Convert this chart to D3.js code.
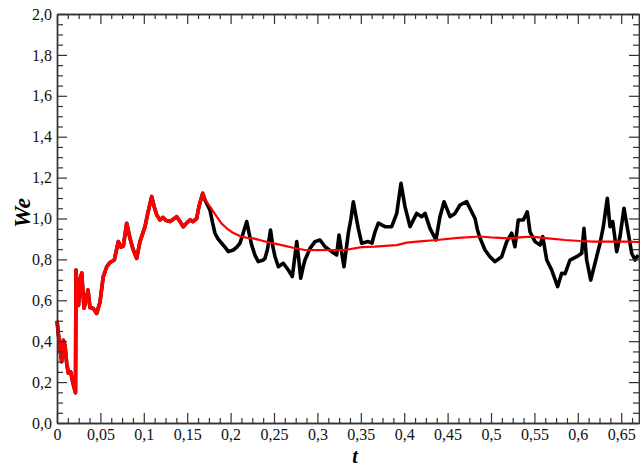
<!DOCTYPE html>
<html>
<head>
<meta charset="utf-8">
<script src="https://cdn.jsdelivr.net/npm/d3@7"></script>
<style>
  html, body { margin: 0; padding: 0; background: #fff; }
  svg { display: block; }
  text { font-family: "Liberation Serif", "Times New Roman", serif; }
</style>
</head>
<body>
<svg id="chart" width="640" height="468"></svg>
<script>
// ---- Data ----
// Shared part (black and red coincide up to t ≈ 0.17)
const tEarly = [0.000,0.0035,0.0054,0.0073,0.0092,0.0112,0.0130,0.0158,0.0181,0.0213,0.0219,0.0238,0.0248,0.0265,0.0285,0.0311,0.0334,0.0357,0.0380,0.0418,0.0457,0.0495,0.0533,0.0573,0.0611,0.0660,0.0706,0.0737,0.0764,0.0803,0.0841,0.0876,0.0918,0.0956,0.1014,0.1048,0.1091,0.1118,0.1149,0.1187,0.1221,0.1256,0.1302,0.1336,0.1379,0.1417,0.1455,0.1498,0.1532,0.1567,0.1609,0.1636,0.1679,0.1705];
const weEarly = [0.50,0.36,0.30,0.405,0.38,0.29,0.245,0.25,0.20,0.148,0.748,0.62,0.575,0.70,0.733,0.562,0.60,0.65,0.565,0.56,0.536,0.59,0.716,0.764,0.785,0.797,0.887,0.86,0.865,0.977,0.903,0.85,0.805,0.887,0.96,1.03,1.107,1.06,1.017,0.993,1.005,0.99,0.985,0.995,1.009,0.985,0.96,0.98,0.993,0.985,1.00,1.06,1.123,1.09];

// Black series after t ≈ 0.17
const tBlack = [0.1725,0.1763,0.1792,0.1820,0.1855,0.1897,0.1935,0.1974,0.2031,0.2071,0.2108,0.2146,0.2186,0.2212,0.2243,0.2281,0.2319,0.2377,0.2396,0.2425,0.2460,0.2488,0.2512,0.2550,0.2607,0.2665,0.2711,0.2736,0.2762,0.2785,0.2808,0.2834,0.2857,0.2915,0.2972,0.3030,0.3088,0.3165,0.3222,0.3249,0.3278,0.3306,0.3356,0.3387,0.3414,0.3445,0.3471,0.3510,0.3586,0.3629,0.3664,0.3702,0.3779,0.3856,0.3914,0.3963,0.4009,0.4067,0.4144,0.4202,0.4240,0.4297,0.4366,0.4412,0.4459,0.4528,0.4585,0.4643,0.4720,0.4777,0.4816,0.4844,0.4873,0.4931,0.4988,0.5046,0.5123,0.5181,0.5238,0.5276,0.5314,0.5372,0.5418,0.5449,0.5507,0.5565,0.5596,0.5642,0.5699,0.5768,0.5814,0.5853,0.5910,0.5987,0.6045,0.6071,0.6102,0.6149,0.6198,0.6256,0.6294,0.6340,0.6371,0.6402,0.6448,0.6486,0.6532,0.6582,0.6621,0.6659,0.6697];
const weBlack = [1.074,1.04,0.98,0.928,0.90,0.879,0.86,0.838,0.846,0.86,0.879,0.93,0.985,0.93,0.870,0.82,0.789,0.797,0.805,0.85,0.944,0.86,0.813,0.764,0.781,0.748,0.716,0.80,0.887,0.80,0.708,0.76,0.797,0.854,0.887,0.895,0.862,0.838,0.822,0.919,0.84,0.764,0.928,1.00,1.082,1.01,0.952,0.879,0.887,0.88,0.935,0.977,0.96,0.96,1.025,1.172,1.058,0.96,1.025,1.009,1.025,0.952,0.895,1.009,1.082,1.009,1.025,1.066,1.082,1.033,1.00,0.944,0.905,0.846,0.813,0.789,0.813,0.887,0.928,0.862,0.993,0.993,1.033,0.935,0.887,0.870,0.911,0.797,0.748,0.667,0.732,0.73,0.797,0.813,0.830,0.952,0.797,0.699,0.781,0.879,0.96,1.099,0.96,0.985,0.838,0.911,1.05,0.928,0.830,0.797,0.822];

// Red (smooth) series after t ≈ 0.17
const tRed = [0.1725,0.1763,0.1840,0.1897,0.1955,0.2028,0.2108,0.2186,0.2262,0.2377,0.2454,0.2589,0.2719,0.2857,0.3007,0.3165,0.3318,0.3510,0.3664,0.3779,0.3914,0.4029,0.4182,0.4374,0.4620,0.4873,0.5046,0.5200,0.5334,0.5469,0.5657,0.5853,0.6025,0.6179,0.6371,0.6544,0.6705];
const weRed = [1.08,1.058,1.009,0.975,0.952,0.93,0.914,0.906,0.903,0.89,0.882,0.870,0.857,0.846,0.845,0.846,0.846,0.86,0.862,0.866,0.870,0.882,0.888,0.895,0.905,0.912,0.906,0.903,0.908,0.911,0.903,0.895,0.89,0.887,0.887,0.887,0.885];

const xMajorTicks = [0,0.05,0.1,0.15,0.2,0.25,0.3,0.35,0.4,0.45,0.5,0.55,0.6,0.65];
const yMajorTicks = [0,0.2,0.4,0.6,0.8,1.0,1.2,1.4,1.6,1.8,2.0];
const xLabel = "t";
const yLabel = "We";

// ---- Layout ----
const svg = d3.select("#chart");
const L = 57, R = 639, T = 14, B = 423;
const x = d3.scaleLinear().domain([0, 0.6705]).range([L, R]);
const y = d3.scaleLinear().domain([0, 2.0]).range([B, T]);

const xMinor = d3.range(0, 0.6705, 0.0125).filter(v => !xMajorTicks.some(m => Math.abs(m - v) < 1e-6));
const yMinor = d3.range(0, 2.0001, 0.05).filter(v => !yMajorTicks.some(m => Math.abs(m - v) < 1e-6));

const fmtX = d => d === 0 ? "0" : String(+d.toFixed(2)).replace(".", ",");
const fmtY = d => d.toFixed(1).replace(".", ",");

// ---- Series ----
const black = tEarly.map((t, i) => [t, weEarly[i]]).concat(tBlack.map((t, i) => [t, weBlack[i]]));
const redEarly = tEarly.map((t, i) => [t, weEarly[i]]);
const redLate = [[tEarly[tEarly.length-1], weEarly[weEarly.length-1]]].concat(tRed.map((t, i) => [t, weRed[i]]));

const line = d3.line().x(d => x(d[0])).y(d => y(d[1]));

const plot = svg.append("g");
plot.append("path").datum(black).attr("d", line)
  .attr("fill", "none").attr("stroke", "#000").attr("stroke-width", 3.6).attr("stroke-linejoin", "round");
plot.append("path").datum(redEarly).attr("d", line)
  .attr("fill", "none").attr("stroke", "#ff0000").attr("stroke-width", 3.6).attr("stroke-linejoin", "round");
plot.append("path").datum(redLate).attr("d", line)
  .attr("fill", "none").attr("stroke", "#ff0000").attr("stroke-width", 2.2).attr("stroke-linejoin", "round");

// ---- Axes (ticks inward) ----
const axisColor = "#333";
function styleAxis(g) {
  g.selectAll("path.domain").attr("stroke", axisColor).attr("stroke-width", 1.4);
  g.selectAll(".tick line").attr("stroke", axisColor).attr("stroke-width", 1.2);
  g.selectAll(".tick text").attr("fill", "#111").style("font-size", "16px")
    .style("font-family", "'Liberation Serif', 'Times New Roman', serif");
}

// bottom
svg.append("g").attr("transform", `translate(0,${B})`)
  .call(d3.axisBottom(x).tickValues(xMajorTicks).tickSizeInner(-10).tickSizeOuter(0).tickPadding(6).tickFormat(fmtX))
  .call(styleAxis);
svg.append("g").attr("transform", `translate(0,${B})`)
  .call(d3.axisBottom(x).tickValues(xMinor).tickSizeInner(-5).tickSizeOuter(0).tickFormat(""))
  .call(styleAxis);
// top
svg.append("g").attr("transform", `translate(0,${T})`)
  .call(d3.axisTop(x).tickValues(xMajorTicks).tickSizeInner(-10).tickSizeOuter(0).tickFormat(""))
  .call(styleAxis);
svg.append("g").attr("transform", `translate(0,${T})`)
  .call(d3.axisTop(x).tickValues(xMinor).tickSizeInner(-5).tickSizeOuter(0).tickFormat(""))
  .call(styleAxis);
// left
svg.append("g").attr("transform", `translate(${L},0)`)
  .call(d3.axisLeft(y).tickValues(yMajorTicks).tickSizeInner(-10).tickSizeOuter(0).tickPadding(5).tickFormat(fmtY))
  .call(styleAxis);
svg.append("g").attr("transform", `translate(${L},0)`)
  .call(d3.axisLeft(y).tickValues(yMinor).tickSizeInner(-6).tickSizeOuter(0).tickFormat(""))
  .call(styleAxis);
// right
svg.append("g").attr("transform", `translate(${R},0)`)
  .call(d3.axisRight(y).tickValues(yMajorTicks).tickSizeInner(-10).tickSizeOuter(0).tickFormat(""))
  .call(styleAxis);
svg.append("g").attr("transform", `translate(${R},0)`)
  .call(d3.axisRight(y).tickValues(yMinor).tickSizeInner(-6).tickSizeOuter(0).tickFormat(""))
  .call(styleAxis);

// ---- Axis titles ----
svg.append("text").attr("x", 355).attr("y", 463)
  .attr("text-anchor", "middle")
  .style("font-size", "20px").style("font-weight", "bold").style("font-style", "italic")
  .text(xLabel);
svg.append("text").attr("transform", "translate(30,213) rotate(-90)")
  .attr("text-anchor", "middle")
  .style("font-size", "24px").style("font-weight", "bold").style("font-style", "italic")
  .text(yLabel);
</script>
</body>
</html>
